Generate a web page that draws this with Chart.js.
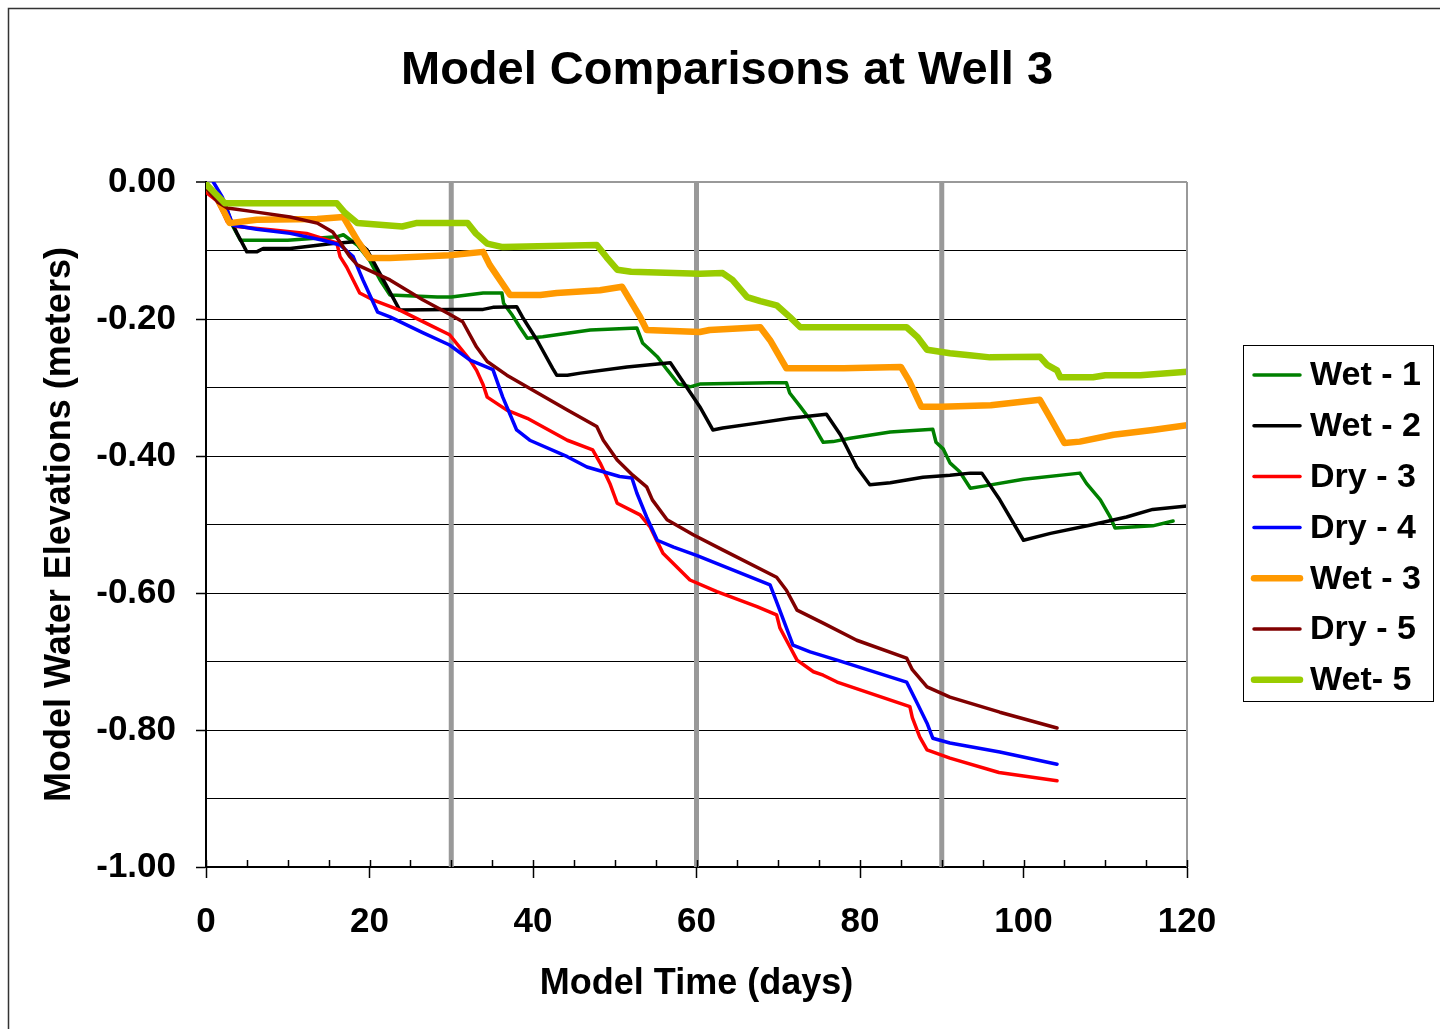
<!DOCTYPE html>
<html>
<head>
<meta charset="utf-8">
<script src="https://cdn.jsdelivr.net/npm/chart.js@4/dist/chart.umd.min.js"></script>
<style>
    body { margin: 0; background: #fff; }
    #wrap { width: 1440px; height: 1029px; }
</style>
</head>
<body>
<div id="wrap"><canvas id="chart" width="1440" height="1029"></canvas></div>
<script>
// Model Comparisons at Well 3

const seriesNames = ['Wet - 1', 'Wet - 2', 'Dry - 3', 'Dry - 4', 'Wet - 3', 'Dry - 5', 'Wet- 5'];
const seriesColors = ['#008000', '#000000', '#ff0000', '#0000ff', '#ff9900', '#800000', '#99cc00'];
const seriesWidths = [3.5, 3.5, 3.5, 3.5, 6.5, 3.5, 6.5];

const wet1Days = [0, 2.3, 3.3, 4.2, 10, 16, 16.8, 18.5, 20, 21.3, 22.5, 28.3, 30, 33.9, 36.2, 36.4, 37.5, 38.4, 39.3, 41.2, 47, 52.7, 53.4, 54.3, 55.2, 56.4, 57.8, 59.2, 60.4, 69, 71, 71.4, 72.7, 73.9, 75.1, 75.5, 76.7, 78.8, 83.7, 88.9, 89.3, 90.2, 91, 92.2, 93.5, 95.1, 100, 106.9, 107.7, 109.4, 110.6, 111.2, 115.8, 118.3];
const wet1Vals = [-0.003, -0.031, -0.065, -0.085, -0.085, -0.08, -0.077, -0.092, -0.114, -0.143, -0.165, -0.168, -0.168, -0.162, -0.162, -0.177, -0.195, -0.212, -0.228, -0.226, -0.216, -0.213, -0.235, -0.245, -0.255, -0.274, -0.295, -0.299, -0.295, -0.293, -0.293, -0.308, -0.328, -0.347, -0.372, -0.38, -0.379, -0.374, -0.365, -0.361, -0.38, -0.39, -0.41, -0.423, -0.447, -0.444, -0.434, -0.425, -0.44, -0.464, -0.489, -0.505, -0.502, -0.495];

const wet2Days = [0, 2, 3.8, 5, 6.2, 7, 10.3, 15.2, 18.5, 19.7, 23.7, 29.8, 33.9, 35.1, 38, 38.7, 40.5, 42.4, 42.9, 44.2, 45.8, 51.5, 56.8, 59.6, 60.4, 62, 63.2, 67.4, 71.4, 75.9, 77.6, 79.6, 81.2, 83.7, 87.7, 91, 93.5, 94.9, 97.1, 100, 103.3, 108.1, 112.6, 115.8, 120];
const wet2Vals = [-0.004, -0.03, -0.075, -0.102, -0.102, -0.097, -0.097, -0.09, -0.087, -0.099, -0.187, -0.186, -0.186, -0.183, -0.182, -0.197, -0.231, -0.272, -0.282, -0.282, -0.279, -0.27, -0.264, -0.314, -0.328, -0.362, -0.359, -0.352, -0.345, -0.339, -0.369, -0.416, -0.442, -0.439, -0.431, -0.428, -0.425, -0.425, -0.464, -0.523, -0.513, -0.501, -0.489, -0.478, -0.473];

const dry3Days = [0, 1.3, 2.1, 2.6, 3.8, 8.2, 12.3, 16, 16.4, 17.2, 18, 18.8, 20.4, 23.7, 27.4, 29.8, 32.3, 33.1, 33.9, 34.4, 36.8, 39.3, 44.2, 47.3, 48.2, 49.4, 50.3, 53.1, 54.3, 55.2, 55.9, 59.2, 62.5, 67.4, 69.8, 70.2, 71, 72.3, 74.3, 75.5, 77.2, 86.1, 86.4, 87.3, 88.2, 91, 97, 104.1];
const dry3Vals = [-0.015, -0.027, -0.045, -0.058, -0.065, -0.07, -0.075, -0.089, -0.109, -0.124, -0.143, -0.162, -0.172, -0.187, -0.209, -0.223, -0.26, -0.275, -0.296, -0.314, -0.333, -0.345, -0.377, -0.391, -0.41, -0.44, -0.469, -0.486, -0.503, -0.525, -0.542, -0.581, -0.598, -0.62, -0.632, -0.651, -0.669, -0.698, -0.715, -0.72, -0.73, -0.766, -0.782, -0.81, -0.829, -0.841, -0.862, -0.874];

const dry4Days = [0.9, 2, 3.3, 6.2, 10.3, 14.3, 16.4, 18, 19.2, 21, 22.5, 26.5, 29.8, 32.3, 35.1, 36.3, 38, 39.6, 44.2, 46.6, 50.6, 52.1, 52.7, 53.9, 55.2, 57.2, 60, 69, 69.8, 71.8, 73.9, 77.2, 85.7, 87, 88.2, 88.9, 91, 97.1, 104.1];
const dry4Vals = [0, -0.022, -0.063, -0.069, -0.075, -0.085, -0.092, -0.109, -0.143, -0.19, -0.197, -0.22, -0.238, -0.26, -0.274, -0.314, -0.362, -0.377, -0.401, -0.416, -0.43, -0.432, -0.454, -0.489, -0.523, -0.533, -0.545, -0.588, -0.613, -0.676, -0.686, -0.698, -0.73, -0.761, -0.79, -0.812, -0.819, -0.832, -0.85];

const wet3Days = [0, 1.3, 2.9, 6.2, 13.6, 16.8, 18.5, 20, 22.5, 29.8, 33.9, 34.7, 37.2, 40.9, 42.9, 48.2, 50.9, 53.1, 53.9, 60.4, 61.6, 67.8, 69, 71, 78, 85, 86, 87.5, 90, 96, 102, 103.2, 105, 106.9, 111, 115.8, 120];
const wet3Vals = [-0.007, -0.022, -0.06, -0.055, -0.054, -0.051, -0.085, -0.111, -0.111, -0.107, -0.102, -0.121, -0.165, -0.165, -0.162, -0.158, -0.153, -0.197, -0.216, -0.219, -0.216, -0.212, -0.231, -0.272, -0.272, -0.27, -0.29, -0.328, -0.328, -0.326, -0.318, -0.343, -0.381, -0.379, -0.369, -0.362, -0.355];

const dry5Days = [0, 1.5, 2.6, 6.2, 10.3, 13.6, 15.5, 16.4, 17.6, 18.5, 22.5, 26.5, 29.8, 31.4, 33.1, 34.4, 36.8, 44.2, 47.8, 48.6, 50.3, 52.2, 53.9, 54.6, 56.4, 59.6, 63.2, 69.8, 71, 72.3, 75.5, 79.6, 85.7, 86.4, 88.2, 91, 97.1, 104.1];
const dry5Vals = [-0.009, -0.03, -0.038, -0.044, -0.051, -0.06, -0.073, -0.088, -0.109, -0.121, -0.143, -0.172, -0.193, -0.204, -0.241, -0.262, -0.282, -0.333, -0.357, -0.377, -0.406, -0.428, -0.445, -0.464, -0.493, -0.515, -0.537, -0.577, -0.596, -0.625, -0.644, -0.669, -0.695, -0.712, -0.737, -0.752, -0.774, -0.797];

const wet5Days = [0, 2.3, 16, 17, 18.5, 24, 25.7, 32, 33, 34.4, 36.3, 47.8, 49, 50.3, 52, 60.4, 63.2, 64.4, 66.2, 67.8, 69.8, 71.4, 72.7, 85.7, 87, 88.2, 91, 93.4, 95.9, 102, 102.9, 104.1, 104.5, 108.5, 110, 114.3, 120];
const wet5Vals = [-0.003, -0.031, -0.031, -0.045, -0.06, -0.065, -0.06, -0.06, -0.075, -0.09, -0.095, -0.092, -0.11, -0.128, -0.131, -0.134, -0.133, -0.143, -0.168, -0.174, -0.18, -0.197, -0.212, -0.212, -0.226, -0.245, -0.25, -0.253, -0.256, -0.255, -0.267, -0.275, -0.285, -0.285, -0.282, -0.282, -0.277];

// dikey gri çizgiler (30, 60, 90. günler)
const markerDays = [30, 60, 90];

const xTickMin = 0, xTickMax = 120, xMajorStep = 20, xMinorStep = 5;
const yTickMin = -1, yTickMax = 0, yStep = 0.1;

const allDays = [wet1Days, wet2Days, dry3Days, dry4Days, wet3Days, dry5Days, wet5Days];
const allVals = [wet1Vals, wet2Vals, dry3Vals, dry4Vals, wet3Vals, dry5Vals, wet5Vals];

const FONT = "'Liberation Sans', Arial, sans-serif";

function pairs(days, vals) {
    return days.map((d, i) => ({ x: d, y: vals[i] }));
}

const datasets = seriesNames.map((name, i) => ({
    label: name,
    data: pairs(allDays[i], allVals[i]),
    borderColor: seriesColors[i],
    backgroundColor: seriesColors[i],
    borderWidth: seriesWidths[i],
    pointRadius: 0,
    tension: 0,
    borderJoinStyle: 'round',
    borderCapStyle: 'round',
    order: seriesNames.length - i,
    inLegend: true
}));

markerDays.forEach(d => {
    datasets.push({
        label: 'marker-' + d,
        data: [{ x: d, y: yTickMax }, { x: d, y: yTickMin }],
        borderColor: '#999999',
        borderWidth: 5,
        pointRadius: 0,
        order: 20,
        inLegend: false
    });
});

// Çerçeve, iç küçük tikler, lejant
const extrasPlugin = {
    id: 'extras',
    beforeDraw(chart) {
        const ctx = chart.ctx;
        ctx.save();
        ctx.fillStyle = '#fff';
        ctx.fillRect(0, 0, chart.width, chart.height);
        ctx.strokeStyle = '#333';
        ctx.lineWidth = 1.5;
        ctx.beginPath();
        ctx.moveTo(8.5, chart.height + 5);
        ctx.lineTo(8.5, 8.5);
        ctx.lineTo(chart.width + 5, 8.5);
        ctx.stroke();
        ctx.restore();
    },
    afterDraw(chart) {
        const ctx = chart.ctx;
        const area = chart.chartArea;
        const xs = chart.scales.x;
        ctx.save();

        // sağ kenar gri
        ctx.strokeStyle = '#999';
        ctx.lineWidth = 2;
        ctx.beginPath();
        ctx.moveTo(area.right, area.top);
        ctx.lineTo(area.right, area.bottom);
        ctx.stroke();

        // x ekseni iç tikler
        ctx.strokeStyle = '#000';
        ctx.lineWidth = 1.5;
        for (let v = xTickMin; v <= xTickMax; v += xMinorStep) {
            const px = Math.round(xs.getPixelForValue(v)) + 0.5;
            ctx.beginPath();
            ctx.moveTo(px, area.bottom - 7);
            ctx.lineTo(px, area.bottom);
            ctx.stroke();
        }

        // lejant
        const items = chart.data.datasets.filter(ds => ds.inLegend);
        const boxL = 1243, boxT = 345, boxW = 190, boxH = 356;
        ctx.fillStyle = '#fff';
        ctx.fillRect(boxL, boxT, boxW, boxH);
        ctx.strokeStyle = '#000';
        ctx.lineWidth = 1;
        ctx.strokeRect(boxL + 0.5, boxT + 0.5, boxW, boxH);
        ctx.font = 'bold 34px ' + FONT;
        ctx.textBaseline = 'middle';
        ctx.textAlign = 'left';
        items.forEach((ds, i) => {
            const cy = 375 + i * 50.8;
            ctx.strokeStyle = ds.borderColor;
            ctx.lineWidth = ds.borderWidth;
            ctx.lineCap = 'round';
            ctx.beginPath();
            ctx.moveTo(1254, cy);
            ctx.lineTo(1300, cy);
            ctx.stroke();
            ctx.fillStyle = '#000';
            ctx.fillText(ds.label, 1310, cy + 1);
        });
        ctx.restore();
    }
};

new Chart(document.getElementById('chart'), {
    type: 'line',
    data: { datasets: datasets },
    options: {
        responsive: false,
        animation: false,
        layout: { padding: { left: 14, top: 0, right: 0, bottom: 0 } },
        plugins: {
            legend: { display: false },
            tooltip: { enabled: false },
            title: {
                display: true,
                text: 'Model Comparisons at Well 3',
                color: '#000',
                font: { family: FONT, size: 47, weight: 'bold', lineHeight: 1.2 },
                padding: { top: 43, bottom: 82.6 }
            }
        },
        scales: {
            x: {
                type: 'linear',
                min: xTickMin,
                max: xTickMax,
                afterFit: s => { s.height = 162; },
                border: { color: '#000', width: 2 },
                grid: {
                    drawOnChartArea: false,
                    drawTicks: true,
                    tickLength: 11,
                    tickWidth: 1.5,
                    tickColor: c => (c.tick && c.tick.value % xMajorStep === 0) ? '#000' : 'rgba(0,0,0,0)'
                },
                ticks: {
                    stepSize: xMinorStep,
                    autoSkip: false,
                    maxRotation: 0,
                    padding: 23,
                    color: '#000',
                    font: { family: FONT, size: 35, weight: 'bold' },
                    callback: v => (v % xMajorStep === 0 ? String(v) : '')
                },
                title: {
                    display: true,
                    text: 'Model Time (days)',
                    color: '#000',
                    font: { family: FONT, size: 36, weight: 'bold', lineHeight: 1.2 },
                    padding: { top: 0, bottom: 23.4 }
                }
            },
            y: {
                type: 'linear',
                min: yTickMin,
                max: yTickMax,
                afterFit: s => { s.width = 192; },
                border: { color: '#000', width: 2 },
                grid: {
                    color: c => (c.tick && Math.abs(c.tick.value) < 1e-9) ? '#999' : '#000',
                    lineWidth: c => (c.tick && Math.abs(c.tick.value) < 1e-9) ? 2 : 1,
                    drawTicks: true,
                    tickLength: 10,
                    tickWidth: 1.5,
                    tickColor: c => (c.tick && Math.round(Math.abs(c.tick.value) * 10) % 2 === 0) ? '#000' : 'rgba(0,0,0,0)'
                },
                ticks: {
                    stepSize: yStep,
                    autoSkip: false,
                    padding: 20,
                    color: '#000',
                    font: { family: FONT, size: 35, weight: 'bold' },
                    callback: v => (Math.round(Math.abs(v) * 10) % 2 === 0 ? v.toFixed(2).replace('-0.00', '0.00') : '')
                },
                title: {
                    display: true,
                    text: 'Model Water Elevations (meters)',
                    color: '#000',
                    font: { family: FONT, size: 36, weight: 'bold', lineHeight: 1.2 },
                    padding: { top: 24, bottom: 0 }
                }
            },
            yRight: {
                type: 'linear',
                position: 'right',
                display: true,
                afterFit: s => { s.width = 253; },
                border: { display: false },
                grid: { display: false },
                ticks: { display: false }
            }
        }
    },
    plugins: [extrasPlugin]
});
</script>
</body>
</html>
